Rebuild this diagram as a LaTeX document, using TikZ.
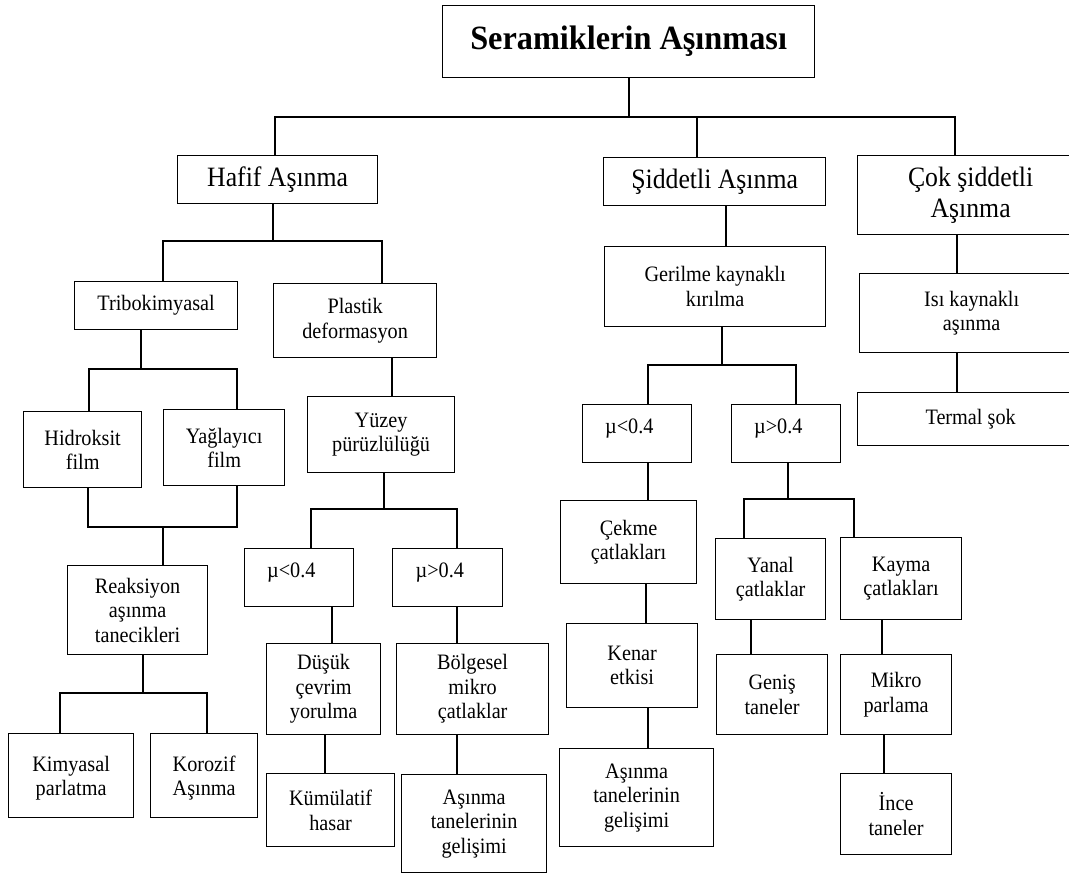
\documentclass[tikz,border=0pt]{standalone}
\usepackage{fontspec}
\setmainfont{Liberation Serif}[FakeStretch=0.92]
\newfontfamily\titlefont{Liberation Serif}[FakeStretch=0.95]

\begin{document}
\begin{tikzpicture}[x=1pt,y=-1pt,
                    every node/.style={draw,anchor=north west,align=center,inner sep=1pt,
                                       font=\fontsize{22}{24.5}\selectfont},
                    every path/.style={line width=1.25pt},
                    big/.style={font=\fontsize{28}{31}\selectfont},
                    mubox/.style={align=left,text width=64,text depth=14},
                    lowtext/.style={text depth=-7}]

\useasboundingbox (0,0) rectangle (1069,873);

\node[minimum width=372,minimum height=72,font=\titlefont\fontsize{34}{38}\bfseries] (root) at (442,5) {Seramiklerin Aşınması};

\node[big,minimum width=200,minimum height=48] (hafif) at (177,155) {Hafif Aşınma};
\node[big,minimum width=222,minimum height=48] (siddetli) at (603,157) {Şiddetli Aşınma};
\node[big,minimum width=226,minimum height=79] (cok) at (857,155) {Çok şiddetli\\Aşınma};

% hafif asinma
\node[minimum width=163,minimum height=48] (tribo) at (74,281) {Tribokimyasal};
\node[minimum width=163,minimum height=74] (plastik) at (273,283) {Plastik\\deformasyon};
\node[minimum width=118,minimum height=76] (hidroksit) at (23,411) {Hidroksit\\film};
\node[minimum width=121,minimum height=76] (yaglayici) at (163,409) {Yağlayıcı\\film};
\node[lowtext,minimum width=140,minimum height=89] (reaksiyon) at (67,565) {Reaksiyon\\aşınma\\tanecikleri};
\node[lowtext,minimum width=125,minimum height=84] (kimyasal) at (8,733) {Kimyasal\\parlatma};
\node[lowtext,minimum width=107,minimum height=84] (korozif) at (150,733) {Korozif\\Aşınma};
\node[minimum width=147,minimum height=76] (yuzey) at (307,396) {Yüzey\\pürüzlülüğü};
\node[mubox,minimum width=109,minimum height=58] (muAk) at (244,548) {µ<0.4};
\node[mubox,minimum width=110,minimum height=58] (muAb) at (392,548) {µ>0.4};
\node[minimum width=114,minimum height=91] (dusuk) at (266,643) {Düşük\\çevrim\\yorulma};
\node[minimum width=128,minimum height=73] (kumulatif) at (266,773) {Kümülatif\\hasar};
\node[minimum width=152,minimum height=91] (bolgesel) at (396,643) {Bölgesel\\mikro\\çatlaklar};
\node[minimum width=145,minimum height=98] (gelisimA) at (401,774) {Aşınma\\tanelerinin\\gelişimi};

% siddetli asinma
\node[minimum width=221,minimum height=80] (gerilme) at (604,246) {Gerilme kaynaklı\\kırılma};
\node[mubox,minimum width=109,minimum height=58] (muBk) at (582,404) {µ<0.4};
\node[mubox,minimum width=109,minimum height=58] (muBb) at (731,404) {µ>0.4};
\node[minimum width=136,minimum height=83] (cekme) at (560,500) {Çekme\\çatlakları};
\node[minimum width=131,minimum height=84] (kenar) at (566,623) {Kenar\\etkisi};
\node[minimum width=154,minimum height=98] (gelisimB) at (559,748) {Aşınma\\tanelerinin\\gelişimi};
\node[minimum width=110,minimum height=81] (yanal) at (715,538) {Yanal\\çatlaklar};
\node[minimum width=121,minimum height=82] (kayma) at (840,537) {Kayma\\çatlakları};
\node[minimum width=111,minimum height=80] (genis) at (716,654) {Geniş\\taneler};
\node[minimum width=111,minimum height=80] (mikro) at (840,654) {Mikro\\parlama};
\node[minimum width=111,minimum height=81] (ince) at (840,773) {İnce\\taneler};

% cok siddetli asinma
\node[minimum width=224,minimum height=79] (isi) at (859,273) {Isı kaynaklı\\aşınma};
\node[minimum width=226,minimum height=53] (termal) at (857,392) {Termal şok};

% junctions
\coordinate (j0) at (629,117);
\coordinate (j0a) at (275,117);
\coordinate (j0b) at (697,117);
\coordinate (j0c) at (955,117);
\coordinate (j1) at (273,241);
\coordinate (j1a) at (163,241);
\coordinate (j1b) at (382,241);
\coordinate (j2) at (141,369);
\coordinate (j2a) at (89,369);
\coordinate (j2b) at (237,369);
\coordinate (j3) at (163,527);
\coordinate (j3a) at (88,527);
\coordinate (j3b) at (237,527);
\coordinate (j4) at (143,693);
\coordinate (j4a) at (60,693);
\coordinate (j4b) at (207,693);
\coordinate (j5) at (384,509);
\coordinate (j5a) at (311,509);
\coordinate (j5b) at (457,509);
\coordinate (j6) at (722,365);
\coordinate (j6a) at (648,365);
\coordinate (j6b) at (796,365);
\coordinate (j7) at (788,499);
\coordinate (j7a) at (744,499);
\coordinate (j7b) at (854,499);

\coordinate (k1) at (392,376);
\coordinate (k2) at (332,625);
\coordinate (k3) at (325,753);
\coordinate (k4) at (457,625);
\coordinate (k5) at (457,754);
\coordinate (k6) at (726,225);
\coordinate (k7) at (648,481);
\coordinate (k8) at (646,603);
\coordinate (k9) at (648,728);
\coordinate (k10) at (751,636);
\coordinate (k11) at (882,636);
\coordinate (k12) at (884,753);
\coordinate (k13) at (957,253);
\coordinate (k14) at (957,372);

% connectors
\draw (root.south -| j0) -- (j0);
\draw (hafif.north -| j0a) -- (j0a) -- (j0c) -- (cok.north -| j0c);
\draw (j0b) -- (siddetli.north -| j0b);

\draw (hafif.south -| j1) -- (j1);
\draw (tribo.north -| j1a) -- (j1a) -- (j1b) -- (plastik.north -| j1b);

\draw (tribo.south -| j2) -- (j2);
\draw (hidroksit.north -| j2a) -- (j2a) -- (j2b) -- (yaglayici.north -| j2b);

\draw (hidroksit.south -| j3a) -- (j3a) -- (j3b) -- (yaglayici.south -| j3b);
\draw (j3) -- (reaksiyon.north -| j3);

\draw (reaksiyon.south -| j4) -- (j4);
\draw (kimyasal.north -| j4a) -- (j4a) -- (j4b) -- (korozif.north -| j4b);

\draw (plastik.south -| k1) -- (yuzey.north -| k1);
\draw (yuzey.south -| j5) -- (j5);
\draw (muAk.north -| j5a) -- (j5a) -- (j5b) -- (muAb.north -| j5b);
\draw (muAk.south -| k2) -- (dusuk.north -| k2);
\draw (dusuk.south -| k3) -- (kumulatif.north -| k3);
\draw (muAb.south -| k4) -- (bolgesel.north -| k4);
\draw (bolgesel.south -| k5) -- (gelisimA.north -| k5);

\draw (siddetli.south -| k6) -- (gerilme.north -| k6);
\draw (gerilme.south -| j6) -- (j6);
\draw (muBk.north -| j6a) -- (j6a) -- (j6b) -- (muBb.north -| j6b);
\draw (muBk.south -| k7) -- (cekme.north -| k7);
\draw (cekme.south -| k8) -- (kenar.north -| k8);
\draw (kenar.south -| k9) -- (gelisimB.north -| k9);
\draw (muBb.south -| j7) -- (j7);
\draw (yanal.north -| j7a) -- (j7a) -- (j7b) -- (kayma.north -| j7b);
\draw (yanal.south -| k10) -- (genis.north -| k10);
\draw (kayma.south -| k11) -- (mikro.north -| k11);
\draw (mikro.south -| k12) -- (ince.north -| k12);

\draw (cok.south -| k13) -- (isi.north -| k13);
\draw (isi.south -| k14) -- (termal.north -| k14);

\end{tikzpicture}
\end{document}
